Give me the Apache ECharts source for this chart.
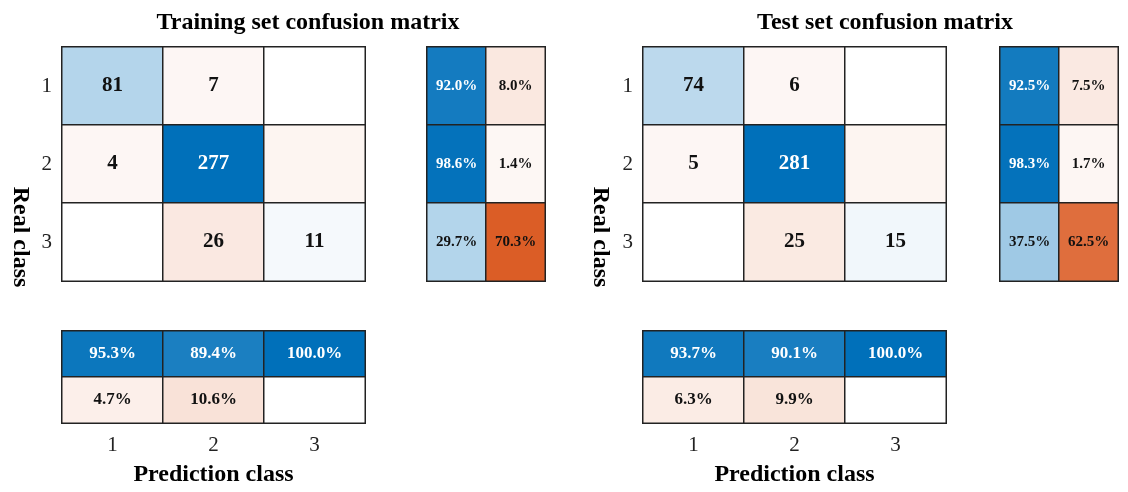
<!DOCTYPE html>
<html><head><meta charset="utf-8">
<script src="https://cdn.jsdelivr.net/npm/echarts@6/dist/echarts.min.js"></script>
<style>html,body{margin:0;background:#fff}#c{width:1128px;height:492px}</style>
</head><body><div id="c"></div>
<script>
const classes = ['1','2','3'];
const trainTitle = 'Training set confusion matrix';
const testTitle = 'Test set confusion matrix';
const trainMatrix = [[81,7,0],[4,277,0],[0,26,11]];
const testMatrix = [[74,6,0],[5,281,0],[0,25,15]];
const trainRowSummary = [[92.0,8.0],[98.6,1.4],[29.7,70.3]];
const testRowSummary = [[92.5,7.5],[98.3,1.7],[37.5,62.5]];
const trainColSummary = [[95.3,89.4,100.0],[4.7,10.6,0]];
const testColSummary = [[93.7,90.1,100.0],[6.3,9.9,0]];

const FONT = '"Liberation Serif", "DejaVu Serif", serif';
function mix(hex, f){
  f=Math.min(1,f);
  const r=parseInt(hex.slice(1,3),16),g=parseInt(hex.slice(3,5),16),b=parseInt(hex.slice(5,7),16);
  const m=c=>Math.round(255-(255-c)*f);
  return `rgb(${m(r)},${m(g)},${m(b)})`;
}
const BLUE='#0070BA', ORANGE='#D95319';
const chart = echarts.init(document.getElementById('c'));
const grids=[], xAxes=[], yAxes=[], series=[];
function addPanel(rect, cells, opts){
  const gi=grids.length;
  grids.push(Object.assign({}, rect));
  xAxes.push({type:'category', gridIndex:gi, data:opts.xcats, position:'bottom',
    axisLine:{show:false}, axisTick:{show:false}, splitLine:{show:false},
    axisLabel:{show:!!opts.xlabels, fontFamily:FONT, fontSize:21, color:'#222', margin:12},
    name:opts.xname||'', nameLocation:'middle', nameGap:40,
    nameTextStyle:{fontFamily:FONT, fontSize:24, fontWeight:'bold', color:'#000'}});
  yAxes.push({type:'category', gridIndex:gi, data:opts.ycats, inverse:true,
    axisLine:{show:false}, axisTick:{show:false}, splitLine:{show:false},
    axisLabel:{show:!!opts.ylabels, fontFamily:FONT, fontSize:21, color:'#222', margin:10}});
  series.push({type:'heatmap', xAxisIndex:gi, yAxisIndex:gi, data:cells,
    itemStyle:{borderColor:'#222', borderWidth:1.5},
    label:{show:true, fontFamily:FONT, fontWeight:'bold', fontSize:opts.fs,
      formatter:p=>p.data.txt}});
}
function mainCells(M){
  const mx=Math.max(...M.flat()); const out=[];
  M.forEach((row,i)=>row.forEach((v,j)=>{
    const f=v/mx;
    let col = i===j ? mix(BLUE,f) : mix(ORANGE, Math.max(f*1.4,0.05));
    if(v===0 && !(i===1&&j===2)) col='#ffffff';
    if(v===0 && i===1&&j===2) col=mix(ORANGE,0.06);
    out.push({value:[j,i,v], txt: v? String(v):'', itemStyle:{color:col},
      label:{color: (i===j&&f>0.5)?'#fff':'#111'}});
  }));
  return out;
}
function pctCells(R, blueTest){
  const out=[];
  R.forEach((row,i)=>row.forEach((v,j)=>{
    const isBlue=blueTest(i,j);
    const col=isBlue?mix(BLUE,v/100):mix(ORANGE,v/100*1.3+0.03);
    out.push({value:[j,i,v], txt: v? v.toFixed(1)+'%':'', itemStyle:{color: v?col:'#fff'},
      label:{color:(isBlue&&v>60)?'#fff':'#111'}});
  }));
  return out;
}
function addSet(x0, rx0, M, R, C){
  addPanel({left:x0, top:47, width:303, height:234}, mainCells(M),
    {xcats:classes, ycats:classes, ylabels:true, fs:21});
  addPanel({left:rx0, top:47, width:118, height:234}, pctCells(R,(i,j)=>j===0),
    {xcats:['a','b'], ycats:classes, fs:15});
  addPanel({left:x0, top:331, width:303, height:92}, pctCells(C,(i,j)=>i===0),
    {xcats:classes, ycats:['a','b'], xlabels:true, xname:'Prediction class', fs:17});
}
addSet(62, 427, trainMatrix, trainRowSummary, trainColSummary);
addSet(643, 1000, testMatrix, testRowSummary, testColSummary);

const yLabelText = 'Real class';
chart.setOption({
  animation:false,
  title:[
    {text:trainTitle, left:303, top:6, textAlign:'center', textStyle:{fontFamily:FONT, fontSize:24, fontWeight:'bold', color:'#000'}},
    {text:testTitle, left:880, top:6, textAlign:'center', textStyle:{fontFamily:FONT, fontSize:24, fontWeight:'bold', color:'#000'}}
  ],
  graphic:[
    {type:'text', x:20, y:237, rotation:-Math.PI/2, style:{text:yLabelText, font:'bold 24px '+FONT, fill:'#000', align:'center', verticalAlign:'middle'}},
    {type:'text', x:600, y:237, rotation:-Math.PI/2, style:{text:yLabelText, font:'bold 24px '+FONT, fill:'#000', align:'center', verticalAlign:'middle'}}
  ],
  grid:grids, xAxis:xAxes, yAxis:yAxes, series:series
});
</script></body></html>
